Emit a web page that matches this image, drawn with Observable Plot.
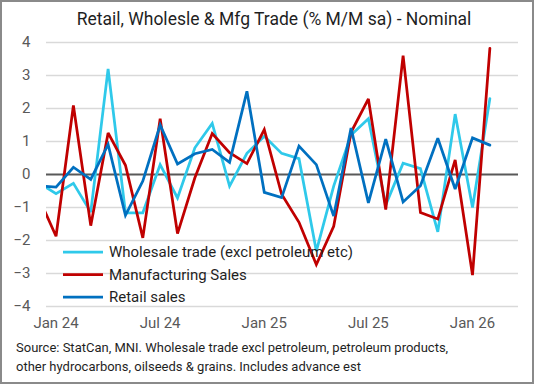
<!DOCTYPE html>
<html>
<head>
<meta charset="utf-8">
<script src="https://cdn.jsdelivr.net/npm/d3@7"></script>
<script src="https://cdn.jsdelivr.net/npm/@observablehq/plot@0.6"></script>
<style>
  html, body { margin: 0; padding: 0; background: #fff; }
  #wrap { position: relative; width: 534px; height: 384px; overflow: hidden; background: #fff; font-family: Roboto, "Noto Sans", sans-serif; }
  #frame { position: absolute; left: 0; top: 0; width: 534px; height: 384px; box-sizing: border-box; border: 2px solid #8a8a8a; pointer-events: none; }
  #title { position: absolute; left: 0; width: 548px; top: 9px; text-align: center; font-size: 17.5px; color: #1f1f1f; white-space: nowrap; }
  #chart { position: absolute; left: 0; top: 0; }
  #legend { position: absolute; left: 0; top: 0; }
  #caption { position: absolute; left: 16px; top: 339px; font-size: 13px; line-height: 18.5px; color: #1f1f1f; white-space: nowrap; }
</style>
</head>
<body>
<div id="wrap">
  <div id="chart"></div>
  <div id="title">Retail, Wholesle &amp; Mfg Trade (% M/M sa) - Nominal</div>
  <div id="legend"></div>
  <div id="caption">Source: StatCan, MNI. Wholesale trade excl petroleum, petroleum products,<br>other hydrocarbons, oilseeds &amp; grains. Includes advance est</div>
  <div id="frame"></div>
</div>
<script>
const months = ["Dec 23","Jan 24","Feb 24","Mar 24","Apr 24","May 24","Jun 24","Jul 24","Aug 24","Sep 24","Oct 24","Nov 24","Dec 24",
  "Jan 25","Feb 25","Mar 25","Apr 25","May 25","Jun 25","Jul 25","Aug 25","Sep 25","Oct 25","Nov 25","Dec 25","Jan 26","Feb 26"];
const wholesale = [-0.25,-0.58,-0.27,-1.14,3.2,-1.16,-1.16,0.3,-0.71,0.81,1.55,-0.35,0.64,
  1.16,0.64,0.48,-2.32,-0.35,1.2,1.69,-0.92,0.34,0.18,-1.74,1.83,-1.0,2.3];
const manufacturing = [-0.7,-1.87,2.09,-1.55,1.26,0.28,-1.92,1.69,-1.79,-0.1,1.24,0.66,0.33,
  1.36,-0.6,-1.45,-2.73,-1.57,1.28,2.29,-1.06,3.6,-1.15,-1.35,0.44,-3.05,3.82];
const retail = [-0.35,-0.38,0.22,-0.15,0.91,-1.24,-0.2,1.5,0.32,0.63,0.76,0.37,2.52,
  -0.54,-0.7,0.86,0.3,-1.26,1.41,-0.86,1.07,-0.83,-0.34,1.1,-0.44,1.11,0.89];
const tickLabels = ["Jan 24","Jul 24","Jan 25","Jul 25","Jan 26"];
const yTicks = [-4,-3,-2,-1,0,1,2,3,4];
const seriesNames = ["Wholesale trade (excl petroleum etc)","Manufacturing Sales","Retail sales"];
const seriesColors = ["#2fc9ea","#c00000","#0070c0"];

const seriesValues = [wholesale, manufacturing, retail];
const rows = seriesValues.map((vals, k) => vals.map((v, i) => ({i, v, s: seriesNames[k]})));
const tickIdx = tickLabels.map(l => months.indexOf(l));

const plot = Plot.plot({
  width: 534, height: 340,
  marginLeft: 46, marginRight: 16, marginTop: 42, marginBottom: 34,
  x: {type: "linear", domain: [0.45, 27.65]},
  y: {domain: [-4, 4]},
  style: {fontFamily: "Roboto, 'Noto Sans', sans-serif", fontSize: "15px", color: "#595959", background: "transparent", overflow: "visible"},
  marks: [
    Plot.ruleY(yTicks.filter(d => d !== 0), {stroke: "#d9d9d9", strokeWidth: 1.5}),
    Plot.axisY({ticks: yTicks, tickSize: 0, tickPadding: 16, label: null, fill: "#595959"}),
    Plot.axisX({ticks: tickIdx, tickFormat: i => months[i], tickSize: 0, tickPadding: 11, label: null, fill: "#595959"}),
    Plot.ruleY([0], {stroke: "#595959", strokeWidth: 2}),
    ...rows.map((r, k) => Plot.line(r, {x: "i", y: "v", stroke: seriesColors[k], strokeWidth: 2.75, clip: true, strokeLinejoin: "miter", strokeMiterlimit: 3}))
  ]
});
document.getElementById("chart").appendChild(plot);

// legend
const legendSvg = d3.create("svg").attr("width", 534).attr("height", 340)
  .style("font-family", "Roboto, 'Noto Sans', sans-serif").style("font-size", "15px");
const ly = [252, 274.5, 297];
seriesNames.forEach((name, k) => {
  legendSvg.append("line").attr("x1", 63).attr("x2", 103).attr("y1", ly[k]).attr("y2", ly[k])
    .attr("stroke", seriesColors[k]).attr("stroke-width", 2.75);
  legendSvg.append("text").attr("x", 109).attr("y", ly[k]).attr("dy", "0.35em").attr("fill", "#1f1f1f").text(name);
});
document.getElementById("legend").appendChild(legendSvg.node());
</script>
</body>
</html>
